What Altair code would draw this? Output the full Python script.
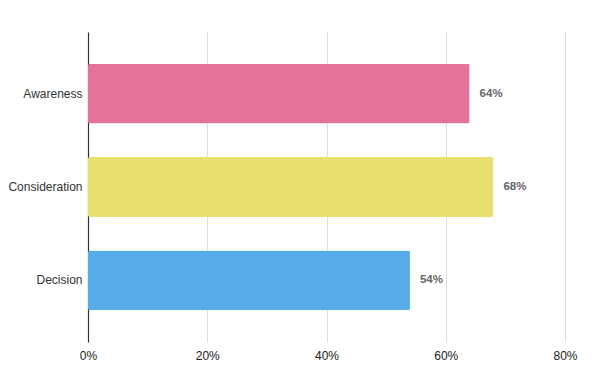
import altair as alt
import pandas as pd

stages = ["Awareness", "Consideration", "Decision"]
shares = [0.64, 0.68, 0.54]
colors = ["#E3739A", "#EAE070", "#56ACE8"]

df = pd.DataFrame({"stage": stages, "share": shares, "color": colors})

y = alt.Y("stage:N", sort=stages, title=None,
          scale=alt.Scale(paddingInner=0.36, paddingOuter=0.34),
          axis=alt.Axis(domain=True, domainColor="#333333", domainWidth=1.2, ticks=False,
                        labelFontSize=12, labelColor="#333333", labelPadding=6,
                        labelFont="Liberation Sans", grid=False))
x = alt.X("share:Q", title=None,
          scale=alt.Scale(domain=[0, 0.8], nice=False),
          axis=alt.Axis(format=".0%", values=[0, 0.2, 0.4, 0.6, 0.8], domain=False, ticks=False,
                        grid=True, gridColor="#DDDDDD", labelFontSize=12, labelColor="#222222",
                        labelPadding=8, labelFont="Liberation Sans", labelFlush=False))

bars = alt.Chart(df).mark_bar(cornerRadius=2).encode(
    x=x, y=y, color=alt.Color("color:N", scale=None)
)
labels = alt.Chart(df).mark_text(align="left", baseline="middle", dx=10, fontSize=11.5,
                                 fontWeight="bold", color="#666666",
                                 font="Liberation Sans").encode(
    x="share:Q", y=alt.Y("stage:N", sort=stages), text=alt.Text("share:Q", format=".0%")
)

chart = (bars + labels).properties(
    width=477, height=310,
    autosize=alt.AutoSizeParams(type="none"),
    padding={"left": 80, "top": 24, "right": 27, "bottom": 40},
).configure_view(stroke=None)

chart.save("out.html", embed_options={"renderer": "svg", "actions": False})
